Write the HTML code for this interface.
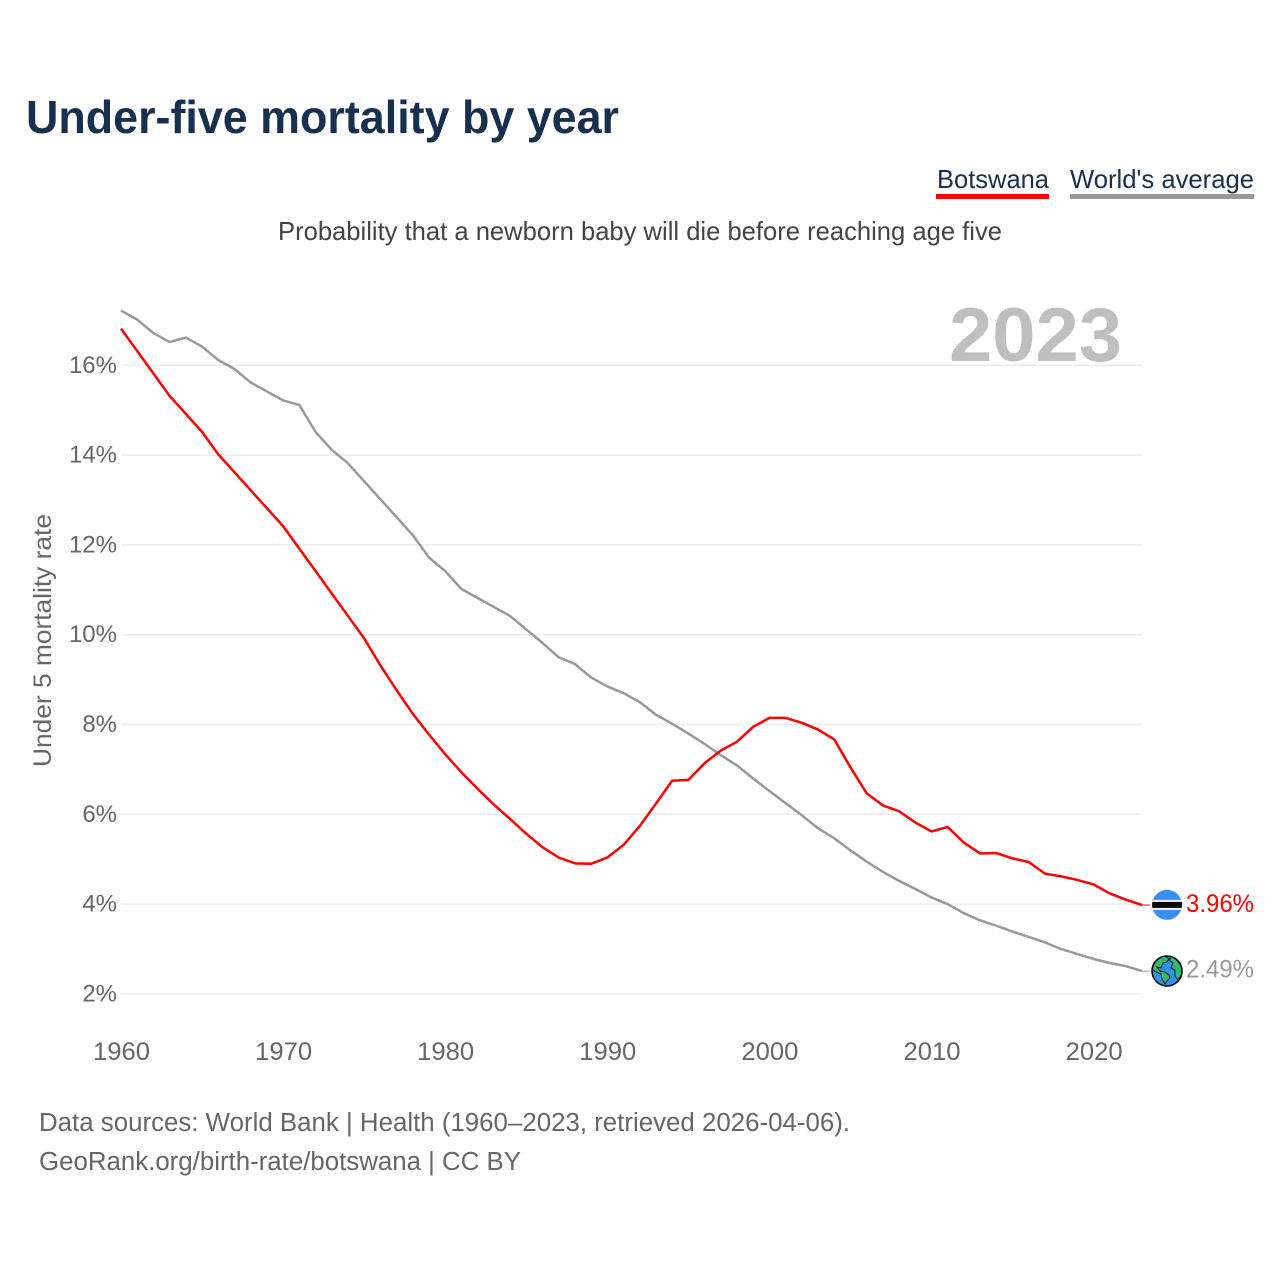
<!DOCTYPE html>
<html lang="en">
<head>
<meta charset="utf-8">
<title>Under-five mortality by year</title>
<style>
html,body{margin:0;padding:0;background:#fff;}
svg{display:block;}
text{font-family:"Liberation Sans",sans-serif;}
</style>
</head>
<body>
<svg id="chart" xmlns="http://www.w3.org/2000/svg" width="1280" height="1280" viewBox="0 0 1280 1280">
  <rect width="1280" height="1280" fill="#fff"/>
  <text x="26" y="133" font-size="46" font-weight="700" fill="#18304f" textLength="593" lengthAdjust="spacingAndGlyphs">Under-five mortality by year</text>
  <g>
    <text x="937" y="188" font-size="26" fill="#18304f" textLength="112" lengthAdjust="spacingAndGlyphs">Botswana</text>
    <rect x="936" y="194" width="113" height="5" fill="#ff0000"/>
  </g>
  <g>
    <text x="1070" y="188" font-size="26" fill="#18304f" textLength="184" lengthAdjust="spacingAndGlyphs">World's average</text>
    <rect x="1070" y="194" width="184" height="5" fill="#999999"/>
  </g>
  <text x="278" y="240" font-size="26" fill="#444444" textLength="724" lengthAdjust="spacingAndGlyphs">Probability that a newborn baby will die before reaching age five</text>
  <text transform="translate(51,767) rotate(-90)" font-size="25" fill="#666666" textLength="253" lengthAdjust="spacingAndGlyphs">Under 5 mortality rate</text>
  <g id="grid"></g>
  <g id="yticks"></g>
  <g id="xticks"></g>
  <text x="949" y="361" font-size="76" font-weight="700" fill="#bfbfbf" textLength="173" lengthAdjust="spacingAndGlyphs">2023</text>
  <g id="series" transform="translate(0,-0.8)"></g>
  <g id="flag">
    <clipPath id="flagClip"><circle cx="0" cy="0" r="15"/></clipPath>
    <g clip-path="url(#flagClip)">
      <rect x="-15" y="-15" width="30" height="30" fill="#3a8ff5"/>
      <rect x="-15" y="-5" width="30" height="10" fill="#f4f4f4"/>
      <rect x="-15" y="-3" width="30" height="6" fill="#060606"/>
    </g>
  </g>
  <g id="globe">
    <clipPath id="globeClip"><circle cx="0" cy="0" r="15"/></clipPath>
    <circle cx="0" cy="0" r="15" fill="#2f94ee"/>
    <g clip-path="url(#globeClip)" fill="#35b874" stroke="#0b1a14" stroke-width="1">
      <path d="M-9-14 L-2-15 L2-12 L0-9 L-4-8 L-6-3 L-10-4 L-7 0 L-2 1 L2 4 L3 7 L0 10 L-2 13 L-5 8 L-6 3 L-11 1 L-15-2 L-14-9Z"/>
      <path d="M3-15 L9-12 L15-4 L15 3 L11 9 L8 5 L8-1 L4-3 L6-8 L3-10Z"/>
    </g>
    <circle cx="0" cy="0" r="15" fill="none" stroke="#0a0a0a" stroke-width="1.6"/>
  </g>
  <text id="label-botswana" x="1186" font-size="25" fill="#ff0000" textLength="68" lengthAdjust="spacingAndGlyphs"></text>
  <text id="label-world" x="1186" font-size="25" fill="#999999" textLength="68" lengthAdjust="spacingAndGlyphs"></text>
  <text x="39" y="1131" font-size="25.5" fill="#666666" textLength="811" lengthAdjust="spacingAndGlyphs">Data sources: World Bank | Health (1960–2023, retrieved 2026-04-06).</text>
  <text x="39" y="1170" font-size="25.5" fill="#666666" textLength="482" lengthAdjust="spacingAndGlyphs">GeoRank.org/birth-rate/botswana | CC BY</text>
</svg>
<script>
const startYear = 1960;
const botswana = [16.8,16.3,15.8,15.3,14.9,14.5,14.0,13.6,13.2,12.8,12.4,11.9,11.4,10.9,10.4,9.9,9.3,8.75,8.22,7.76,7.32,6.92,6.55,6.2,5.88,5.55,5.25,5.02,4.89,4.88,5.02,5.3,5.72,6.22,6.73,6.75,7.12,7.4,7.6,7.93,8.13,8.13,8.02,7.87,7.65,7.03,6.45,6.18,6.05,5.8,5.6,5.7,5.35,5.11,5.12,5.0,4.92,4.66,4.6,4.52,4.42,4.22,4.08,3.96];
const world = [17.2,17.0,16.7,16.5,16.6,16.4,16.1,15.9,15.6,15.4,15.2,15.1,14.5,14.1,13.8,13.4,13.0,12.6,12.2,11.7,11.4,11.0,10.8,10.6,10.4,10.1,9.8,9.48,9.33,9.03,8.83,8.68,8.48,8.2,8.0,7.78,7.55,7.3,7.07,6.78,6.5,6.23,5.96,5.67,5.45,5.18,4.93,4.7,4.5,4.32,4.13,3.98,3.78,3.62,3.5,3.37,3.25,3.13,2.98,2.87,2.76,2.67,2.6,2.49];
const yTickValues = [2,4,6,8,10,12,14,16];
const xTickValues = [1960,1970,1980,1990,2000,2010,2020];

const NS = 'http://www.w3.org/2000/svg';
const xScale = function (year) { return 121 + (year - 1960) * 16.21; };
const yScale = function (v) { return 993.9 - (v - 2) * 44.9; };

function make(tag, parent, attrs, content) {
  const el = document.createElementNS(NS, tag);
  Object.keys(attrs).forEach(function (k) { el.setAttribute(k, attrs[k]); });
  if (content !== undefined) el.textContent = content;
  parent.appendChild(el);
  return el;
}

const gridG = document.getElementById('grid');
const yG = document.getElementById('yticks');
const xG = document.getElementById('xticks');
const seriesG = document.getElementById('series');
const lastX = xScale(startYear + botswana.length - 1);

yTickValues.forEach(function (v) {
  const line = make('line', gridG, {x1: 121, x2: lastX, y1: yScale(v), y2: yScale(v), stroke: '#ececec', 'stroke-width': 1.5});
  
  
  const label = make('text', yG, {x: 117, y: yScale(v) + 7.5, 'text-anchor': 'end', 'font-size': 24, fill: '#666666'}, v + '%');
  
  
});

xTickValues.forEach(function (yr) {
  const label = make('text', xG, {x: xScale(yr) + 0.5, y: 1060, 'text-anchor': 'middle', 'font-size': 25, fill: '#666666', textLength: 57, lengthAdjust: 'spacingAndGlyphs'}, String(yr));
  
  
});

function drawSeries(values, color, name) {
  const pts = values.map(function (v, i) { return xScale(startYear + i).toFixed(2) + ',' + yScale(v).toFixed(2); }).join(' ');
  const lastY = yScale(values[values.length - 1]);
  const conn = make('line', seriesG, {x1: lastX, x2: 1150, y1: lastY, y2: lastY, stroke: color, 'stroke-width': 1});
  
  
  const line = make('polyline', seriesG, {points: pts, fill: 'none', stroke: color, 'stroke-width': 2.5, 'stroke-linejoin': 'round'});
  
  
  return lastY;
}

const worldY = drawSeries(world, '#999999', 'world-average');
const botswanaY = drawSeries(botswana, '#ff0000', 'botswana');

document.getElementById('flag').setAttribute('transform', 'translate(1167,' + (botswanaY - 1) + ')');
document.getElementById('globe').setAttribute('transform', 'translate(1167,' + (worldY - 0.9) + ')');

const labelB = document.getElementById('label-botswana');
labelB.setAttribute('y', botswanaY + 6);
labelB.textContent = botswana[botswana.length - 1].toFixed(2) + '%';
const labelW = document.getElementById('label-world');
labelW.setAttribute('y', worldY + 5.5);
labelW.textContent = world[world.length - 1].toFixed(2) + '%';
</script>
</body>
</html>
